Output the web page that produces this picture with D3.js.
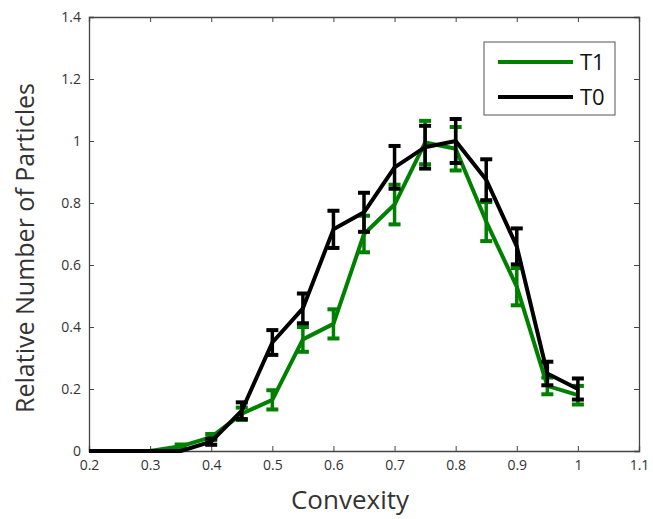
<!DOCTYPE html>
<html>
<head>
<meta charset="utf-8">
<script src="https://cdn.jsdelivr.net/npm/d3@7"></script>
<style>
  body { margin: 0; background: #fff; }
  text { font-family: "Open Sans", sans-serif; }
</style>
</head>
<body>
<svg id="canvas" width="653" height="519"></svg>
<script>
let convexity = [0.2, 0.25, 0.3, 0.35, 0.4, 0.45, 0.5, 0.55, 0.6, 0.65, 0.7, 0.75, 0.8, 0.85, 0.9, 0.95, 1.0];
let t1Values = [0, 0, 0, 0.015, 0.045, 0.12, 0.165, 0.36, 0.41, 0.70, 0.795, 0.995, 0.975, 0.74, 0.53, 0.21, 0.18];
let t1Errors = [0, 0, 0, 0.006, 0.01, 0.02, 0.031, 0.04, 0.047, 0.059, 0.064, 0.07, 0.07, 0.063, 0.06, 0.027, 0.03];
let t0Values = [0, 0, 0, 0, 0.03, 0.13, 0.35, 0.46, 0.715, 0.77, 0.915, 0.98, 1.0, 0.875, 0.66, 0.25, 0.2];
let t0Errors = [0, 0, 0, 0, 0.01, 0.027, 0.04, 0.048, 0.06, 0.063, 0.069, 0.069, 0.071, 0.066, 0.058, 0.038, 0.034];
let xTicks = [0.2, 0.3, 0.4, 0.5, 0.6, 0.7, 0.8, 0.9, 1, 1.1];
let yTicks = [0, 0.2, 0.4, 0.6, 0.8, 1, 1.2, 1.4];

let canvas = d3.select('#canvas');

let plotLeft = 89, plotRight = 639, plotTop = 17, plotBottom = 451;

let xScale = d3.scaleLinear().domain([0.2, 1.1]).range([plotLeft, plotRight]);
let yScale = d3.scaleLinear().domain([0, 1.4]).range([plotBottom, plotTop]);

let fmt = (d) => String(d);

// axes (box with inward ticks)
let axisColor = '#444';
let bottomAxis = d3.axisBottom(xScale).tickValues(xTicks).tickSize(-5).tickPadding(9).tickFormat(fmt);
let leftAxis = d3.axisLeft(yScale).tickValues(yTicks).tickSize(-5).tickPadding(8).tickFormat(fmt);
let topAxis = d3.axisTop(xScale).tickValues(xTicks).tickSize(-5).tickFormat('');
let rightAxis = d3.axisRight(yScale).tickValues(yTicks).tickSize(-5).tickFormat('');

let styleAxis = (g) => {
	g.select('.domain').attr('stroke', axisColor).attr('stroke-width', 1.3);
	g.selectAll('.tick line').attr('stroke', axisColor).attr('stroke-width', 1);
	g.selectAll('.tick text').attr('fill', '#333').style('font-size', '14px');
};

canvas.append('g').attr('transform', `translate(0,${plotBottom})`).call(bottomAxis).call(styleAxis);
canvas.append('g').attr('transform', `translate(${plotLeft},0)`).call(leftAxis).call(styleAxis);
canvas.append('g').attr('transform', `translate(0,${plotTop})`).call(topAxis).call(styleAxis);
canvas.append('g').attr('transform', `translate(${plotRight},0)`).call(rightAxis).call(styleAxis);

// series
let series = [
	{ name: 'T1', color: '#008000', values: t1Values, errors: t1Errors },
	{ name: 'T0', color: '#000000', values: t0Values, errors: t0Errors }
];

let line = d3.line()
	.x((d) => xScale(d[0]))
	.y((d) => yScale(d[1]));

series.forEach((s) => {
	let pts = convexity.map((c, i) => [c, s.values[i], s.errors[i]]);
	let g = canvas.append('g');
	g.append('path')
		.datum(pts)
		.attr('d', line)
		.attr('fill', 'none')
		.attr('stroke', s.color)
		.attr('stroke-width', 4)
		.attr('stroke-linejoin', 'round');
	let bars = pts.filter((p) => p[2] > 0);
	let eb = g.selectAll('.eb').data(bars).enter().append('g');
	eb.append('line')
		.attr('x1', (d) => xScale(d[0])).attr('x2', (d) => xScale(d[0]))
		.attr('y1', (d) => yScale(d[1] - d[2])).attr('y2', (d) => yScale(d[1] + d[2]))
		.attr('stroke', s.color).attr('stroke-width', 3.5);
	[-1, 1].forEach((sign) => {
		eb.append('line')
			.attr('x1', (d) => xScale(d[0]) - 6).attr('x2', (d) => xScale(d[0]) + 6)
			.attr('y1', (d) => yScale(d[1] + sign * d[2])).attr('y2', (d) => yScale(d[1] + sign * d[2]))
			.attr('stroke', s.color).attr('stroke-width', 4);
	});
});

// legend
let legend = canvas.append('g');
legend.append('rect')
	.attr('x', 484).attr('y', 42).attr('width', 131).attr('height', 73)
	.attr('fill', '#fff').attr('stroke', '#555').attr('stroke-width', 1);
series.forEach((s, i) => {
	let y = 62 + i * 35;
	legend.append('line')
		.attr('x1', 498).attr('x2', 573).attr('y1', y).attr('y2', y)
		.attr('stroke', s.color).attr('stroke-width', 4);
	legend.append('text')
		.attr('x', 580).attr('y', y + 8)
		.style('font-size', '22px').attr('fill', '#111')
		.text(s.name);
});

// labels
canvas.append('text')
	.attr('x', 350).attr('y', 509)
	.attr('text-anchor', 'middle')
	.style('font-size', '26px').attr('fill', '#333')
	.text('Convexity');

canvas.append('text')
	.attr('transform', 'translate(34,248) rotate(-90)')
	.attr('text-anchor', 'middle')
	.style('font-size', '25px').attr('fill', '#333')
	.text('Relative Number of Particles');
</script>
</body>
</html>
